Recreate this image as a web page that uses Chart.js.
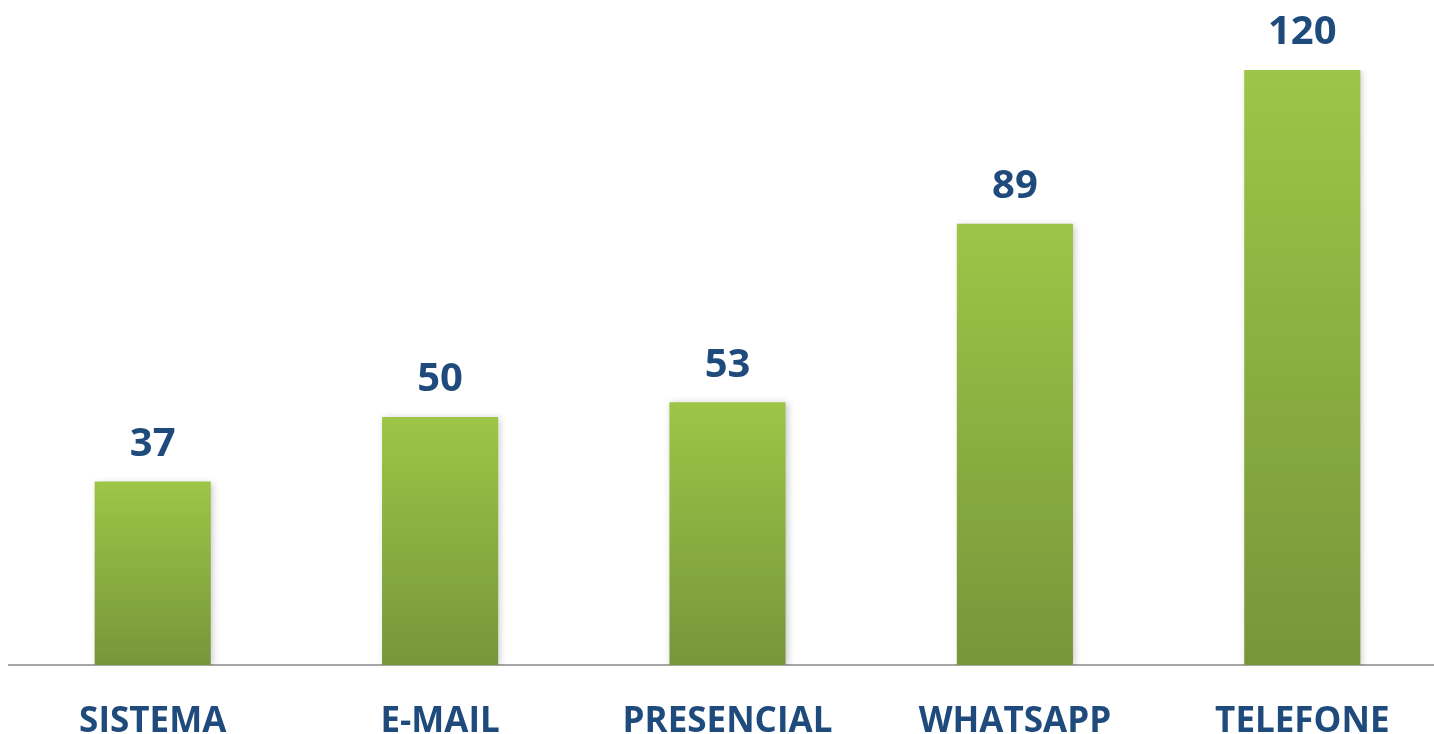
<!DOCTYPE html>
<html>
<head>
<meta charset="utf-8">
<script src="https://cdn.jsdelivr.net/npm/chart.js@4/dist/chart.umd.min.js"></script>
<style>
    html, body { margin: 0; padding: 0; background: #fff; overflow: hidden; }
    #wrap { width: 1448px; height: 779px; position: relative; }
</style>
</head>
<body>
<div id="wrap"><canvas id="canal"></canvas></div>
<script>
var categorias = ['SISTEMA', 'E-MAIL', 'PRESENCIAL', 'WHATSAPP', 'TELEFONE'];
var atendimentos = [37, 50, 53, 89, 120];

var azul = '#1f4a7c';
var fonte = "'Open Sans', 'Liberation Sans', sans-serif";

// gradient per bar, light at the top and darker at the base
var barGradient = function (context) {
    var chart = context.chart;
    var y = chart.scales && chart.scales.y;
    if (!chart.chartArea || !y) {
        return '#8aad40';
    }
    var top = y.getPixelForValue(context.raw);
    var base = y.getPixelForValue(0);
    var g = chart.ctx.createLinearGradient(0, top, 0, base);
    g.addColorStop(0, '#9dc547');
    g.addColorStop(1, '#77963a');
    return g;
};

var valueLabels = {
    id: 'valueLabels',
    afterDatasetsDraw: function (chart) {
        var ctx = chart.ctx;
        var meta = chart.getDatasetMeta(0);
        ctx.save();
        ctx.fillStyle = azul;
        ctx.font = 'bold 40px ' + fonte;
        ctx.textAlign = 'center';
        ctx.textBaseline = 'middle';
        meta.data.forEach(function (bar, i) {
            ctx.fillText(chart.data.datasets[0].data[i], bar.x, bar.y - 37);
        });
        ctx.restore();
    }
};

var barShadow = {
    id: 'barShadow',
    beforeDatasetDraw: function (chart) {
        var ctx = chart.ctx;
        ctx.save();
        ctx.shadowColor = 'rgba(0,0,0,0.22)';
        ctx.shadowBlur = 7;
        ctx.shadowOffsetX = 2;
        ctx.shadowOffsetY = 1;
    },
    afterDatasetDraw: function (chart) {
        chart.ctx.restore();
    }
};

var ctx = document.getElementById('canal');
var myChart = new Chart(ctx, {
    type: 'bar',
    data: {
        labels: categorias,
        datasets: [{
            data: atendimentos,
            backgroundColor: barGradient,
            borderWidth: 0,
            categoryPercentage: 1,
            barPercentage: 0.404
        }]
    },
    options: {
        responsive: true,
        maintainAspectRatio: false,
        animation: false,
        layout: {
            padding: { left: 9, right: 2, top: 70, bottom: 0 }
        },
        plugins: {
            legend: { display: false },
            tooltip: { enabled: false }
        },
        scales: {
            x: {
                grid: { display: false, drawTicks: false },
                border: { display: true, color: '#a6a6a6', width: 2 },
                ticks: {
                    color: azul,
                    padding: 36,
                    font: { family: fonte, size: 35, weight: 'bold' }
                }
            },
            y: {
                display: false,
                min: 0,
                max: 120
            }
        }
    },
    plugins: [barShadow, valueLabels]
});
</script>
</body>
</html>
